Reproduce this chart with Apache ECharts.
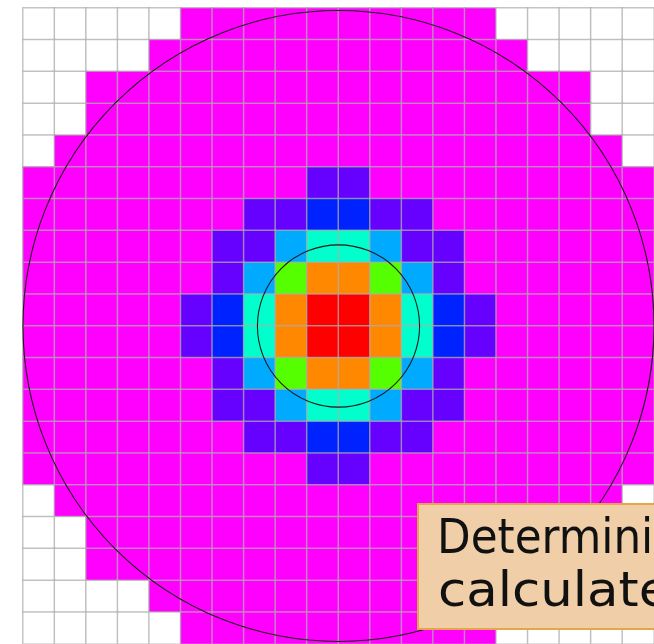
<!DOCTYPE html>
<html>
<head>
<meta charset="utf-8">
<script src="https://cdn.jsdelivr.net/npm/echarts@6/dist/echarts.min.js"></script>
<style>
  html, body { margin: 0; padding: 0; background: #ffffff; }
  #chart { width: 654px; height: 644px; }
</style>
</head>
<body>
<div id="chart"></div>
<script>
// Column / row categories of the 20 x 20 pixel grid
const colLabels = ['0','1','2','3','4','5','6','7','8','9','10','11','12','13','14','15','16','17','18','19'];
const rowLabels = ['0','1','2','3','4','5','6','7','8','9','10','11','12','13','14','15','16','17','18','19'];

// Level of each cell (0 = outside detector, 1 = lowest ... 8 = highest)
const row00 = [0,0,0,0,0,1,1,1,1,1,1,1,1,1,1,0,0,0,0,0];
const row01 = [0,0,0,0,1,1,1,1,1,1,1,1,1,1,1,1,0,0,0,0];
const row02 = [0,0,1,1,1,1,1,1,1,1,1,1,1,1,1,1,1,1,0,0];
const row03 = [0,0,1,1,1,1,1,1,1,1,1,1,1,1,1,1,1,1,0,0];
const row04 = [0,1,1,1,1,1,1,1,1,1,1,1,1,1,1,1,1,1,1,0];
const row05 = [1,1,1,1,1,1,1,1,1,2,2,1,1,1,1,1,1,1,1,1];
const row06 = [1,1,1,1,1,1,1,2,2,3,3,2,2,1,1,1,1,1,1,1];
const row07 = [1,1,1,1,1,1,2,2,4,5,5,4,2,2,1,1,1,1,1,1];
const row08 = [1,1,1,1,1,1,2,4,6,7,7,6,4,2,1,1,1,1,1,1];
const row09 = [1,1,1,1,1,2,3,5,7,8,8,7,5,3,2,1,1,1,1,1];
const row10 = [1,1,1,1,1,2,3,5,7,8,8,7,5,3,2,1,1,1,1,1];
const row11 = [1,1,1,1,1,1,2,4,6,7,7,6,4,2,1,1,1,1,1,1];
const row12 = [1,1,1,1,1,1,2,2,4,5,5,4,2,2,1,1,1,1,1,1];
const row13 = [1,1,1,1,1,1,1,2,2,3,3,2,2,1,1,1,1,1,1,1];
const row14 = [1,1,1,1,1,1,1,1,1,2,2,1,1,1,1,1,1,1,1,1];
const row15 = [0,1,1,1,1,1,1,1,1,1,1,1,1,1,1,1,1,1,1,0];
const row16 = [0,0,1,1,1,1,1,1,1,1,1,1,1,1,1,1,1,1,0,0];
const row17 = [0,0,1,1,1,1,1,1,1,1,1,1,1,1,1,1,1,1,0,0];
const row18 = [0,0,0,0,1,1,1,1,1,1,1,1,1,1,1,1,0,0,0,0];
const row19 = [0,0,0,0,0,1,1,1,1,1,1,1,1,1,1,0,0,0,0,0];
const gridRows = [row00,row01,row02,row03,row04,row05,row06,row07,row08,row09,
                  row10,row11,row12,row13,row14,row15,row16,row17,row18,row19];

// Colour of each level
const levelValues = [0, 1, 2, 3, 4, 5, 6, 7, 8];
const levelColors = ['#ffffff','#ff00ff','#6600ff','#0022ff','#00aaff','#00ffcc','#55ff00','#ff8800','#ff0000'];

// Circles (centre x, centre y, radius) in cell units
const circleCx = [10, 10];
const circleCy = [10, 10];
const circleR  = [10, 2.57];

// Annotation text (cut at the picture edge)
const noteLines = ['Determining', 'calculated'];

const heatData = [];
gridRows.forEach((row, r) => row.forEach((v, c) => heatData.push([c, r, v])));
const circleData = circleCx.map((cx, i) => [cx, circleCy[i], circleR[i]]);

const chart = echarts.init(document.getElementById('chart'), null, { renderer: 'canvas' });
chart.setOption({
  animation: false,
  backgroundColor: '#ffffff',
  grid: { left: 23, top: 8, width: 636, height: 636, containLabel: false },
  xAxis: [
    { type: 'category', data: colLabels, show: false },
    { type: 'value', min: 0, max: 20, show: false }
  ],
  yAxis: [
    { type: 'category', data: rowLabels, inverse: true, show: false },
    { type: 'value', min: 0, max: 20, inverse: true, show: false }
  ],
  visualMap: {
    type: 'piecewise', show: false, seriesIndex: 0, dimension: 2,
    pieces: levelValues.map((v, i) => ({ value: v, color: levelColors[i] }))
  },
  series: [
    {
      type: 'heatmap', xAxisIndex: 0, yAxisIndex: 0, data: heatData,
      itemStyle: { borderColor: 'rgba(172,172,172,0.7)', borderWidth: 1.5 },
      emphasis: { disabled: true }, silent: true
    },
    {
      type: 'custom', xAxisIndex: 1, yAxisIndex: 1, data: circleData, silent: true, z: 5,
      renderItem: function (params, api) {
        const c = api.coord([api.value(0), api.value(1)]);
        const rr = api.size([api.value(2), 0])[0];
        return {
          type: 'circle',
          shape: { cx: c[0], cy: c[1], r: rr },
          style: { fill: 'none', stroke: '#1a1a1a', lineWidth: 1.1 }
        };
      }
    }
  ],
  graphic: [
    {
      type: 'rect', z: 100,
      shape: { x: 418, y: 504, width: 260, height: 125 },
      style: { fill: '#f0cfa8', stroke: '#e6a54a', lineWidth: 2 }
    },
    {
      type: 'text', z: 101, x: 437, y: 541, scaleX: 0.91,
      style: { text: noteLines[0], fill: '#111111', font: '48px "DejaVu Sans"', verticalAlign: 'middle', align: 'left' }
    },
    {
      type: 'text', z: 101, x: 438, y: 594, scaleX: 1.07,
      style: { text: noteLines[1], fill: '#111111', font: '48px "DejaVu Sans"', verticalAlign: 'middle', align: 'left' }
    }
  ]
});
</script>
</body>
</html>
